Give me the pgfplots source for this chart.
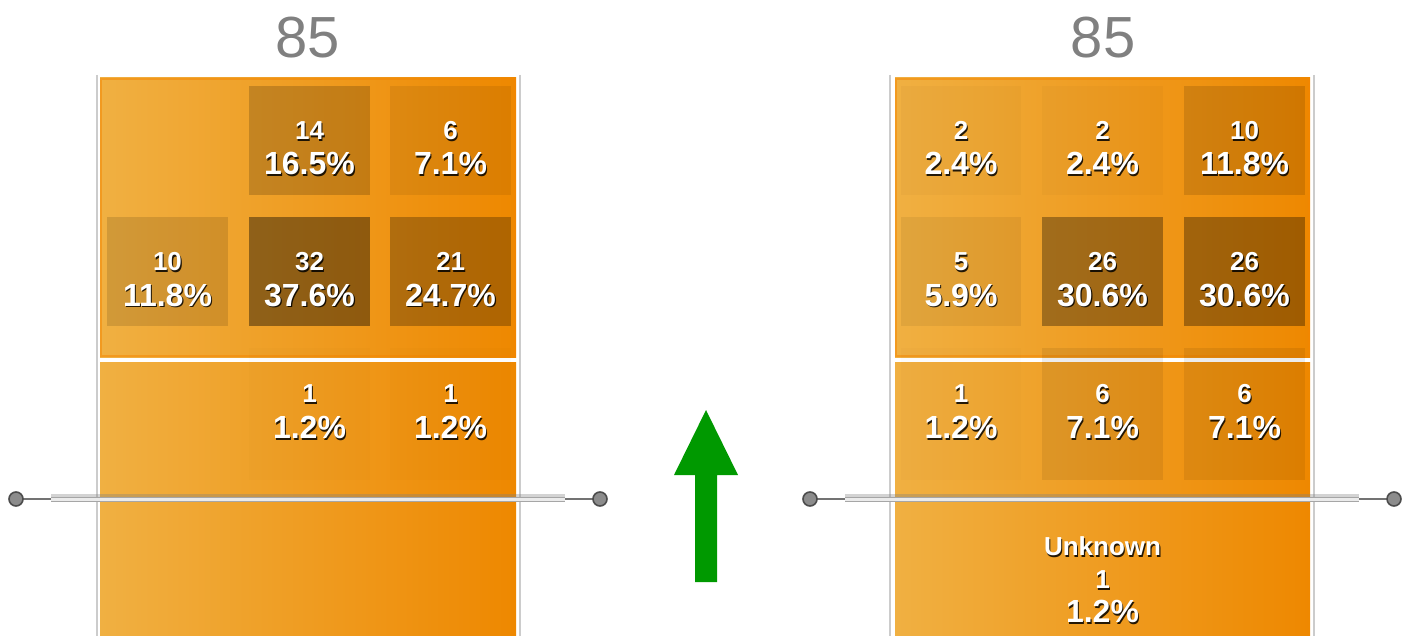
\documentclass[border=0pt]{standalone}
\usepackage{pgfplots}
\pgfplotsset{compat=1.18}
\usepackage{fontspec}
\setmainfont{Liberation Sans}
\definecolor{orL}{RGB}{240,176,66}
\definecolor{orM}{RGB}{240,156,0}
\definecolor{orR}{RGB}{238,136,0}
\definecolor{titlegray}{RGB}{128,128,128}
\definecolor{arrowgreen}{RGB}{0,153,0}
\newcommand{\cell}[5]{%
  \addplot[draw=none, fill=black, fill opacity=#5, forget plot] coordinates {(#1,#2) (#3,#2) (#3,#4) (#1,#4)} -- cycle;}
\newcommand{\lab}[4]{% x baseline size text
  \node[font=\fontsize{#3}{#3}\selectfont\bfseries, text=black, text opacity=0.85, anchor=base, xshift=1.2pt, yshift=-2pt, inner sep=0pt] at (axis cs:#1,#2) {#4};
  \node[font=\fontsize{#3}{#3}\selectfont\bfseries, text=white, anchor=base, inner sep=0pt] at (axis cs:#1,#2) {#4};}
\newcommand{\panel}[2]{% x1 x2
  \fill[left color=orL, middle color=orM, right color=orR] (axis cs:#1,78) rectangle (axis cs:#2,357);
  \fill[left color=orL, middle color=orM, right color=orR] (axis cs:#1,362) rectangle (axis cs:#2,636);
  \draw[orange!40!orR, line width=1.2pt, opacity=0.5] (axis cs:#1+1,79) rectangle (axis cs:#2-1,356);}
\newcommand{\slider}[2]{% x1 x2
  \draw[black!55, line width=2pt] (axis cs:#1,499) -- (axis cs:#2,499);
  \draw[black!50, line width=6pt, opacity=0.35] (axis cs:#1+35,497) -- (axis cs:#2-35,497);
  \draw[black!35, line width=5pt] (axis cs:#1+35,499.5) -- (axis cs:#2-35,499.5);
  \draw[black!8, line width=3pt] (axis cs:#1+35,499.5) -- (axis cs:#2-35,499.5);
  \filldraw[fill=black!45, draw=black!70, line width=1.6pt] (axis cs:#1,499) circle[radius=7pt];
  \filldraw[fill=black!45, draw=black!70, line width=1.6pt] (axis cs:#2,499) circle[radius=7pt];}
\begin{document}
\begin{tikzpicture}
\begin{axis}[name=ax,
  width=1416pt, height=636pt, scale only axis,
  xmin=0, xmax=1416, ymin=0, ymax=636, y dir=reverse,
  hide axis, clip=false]
% panels
\panel{100}{516}
\panel{895}{1310}
% vertical guide lines
\draw[black!20, line width=1.5pt] (axis cs:97,75) -- (axis cs:97,636);
\draw[black!20, line width=1.5pt] (axis cs:520,75) -- (axis cs:520,636);
\draw[black!20, line width=1.5pt] (axis cs:890,75) -- (axis cs:890,636);
\draw[black!20, line width=1.5pt] (axis cs:1314,75) -- (axis cs:1314,636);
% left cells (opacity = 0.0125 * count)
\cell{249}{86}{370}{195}{0.175}
\cell{390}{86}{511}{195}{0.075}
\cell{107}{217}{228}{326}{0.125}
\cell{249}{217}{370}{326}{0.40}
\cell{390}{217}{511}{326}{0.2625}
\cell{249}{348}{370}{480}{0.0125}
\cell{390}{348}{511}{480}{0.0125}
% right cells
\cell{901}{86}{1021}{195}{0.025}
\cell{1042}{86}{1163}{195}{0.025}
\cell{1184}{86}{1305}{195}{0.125}
\cell{901}{217}{1021}{326}{0.0625}
\cell{1042}{217}{1163}{326}{0.325}
\cell{1184}{217}{1305}{326}{0.325}
\cell{901}{348}{1021}{480}{0.0125}
\cell{1042}{348}{1163}{480}{0.075}
\cell{1184}{348}{1305}{480}{0.075}
% sliders
\slider{16}{600}
\slider{810}{1394}
% arrow
\fill[arrowgreen] (axis cs:695,582) -- (axis cs:717,582) -- (axis cs:717,475) -- (axis cs:738,475) -- (axis cs:706,410) -- (axis cs:674,475) -- (axis cs:695,475) -- cycle;
% titles
\node[font=\fontsize{58}{58}\selectfont, text=titlegray, anchor=base, inner sep=0pt] at (axis cs:308,58) {85};
\node[font=\fontsize{58}{58}\selectfont, text=titlegray, anchor=base, inner sep=0pt] at (axis cs:1103,58) {85};
% left labels
\lab{309.5}{140}{26}{14}
\lab{309.5}{175}{32}{16.5\%}
\lab{450.5}{140}{26}{6}
\lab{450.5}{175}{32}{7.1\%}
\lab{167.5}{271}{26}{10}
\lab{167.5}{306}{32}{11.8\%}
\lab{309.5}{271}{26}{32}
\lab{309.5}{306}{32}{37.6\%}
\lab{450.5}{271}{26}{21}
\lab{450.5}{306}{32}{24.7\%}
\lab{309.5}{402}{26}{1}
\lab{309.5}{438}{32}{1.2\%}
\lab{450.5}{402}{26}{1}
\lab{450.5}{438}{32}{1.2\%}
% right labels
\lab{961}{140}{26}{2}
\lab{961}{175}{32}{2.4\%}
\lab{1102.5}{140}{26}{2}
\lab{1102.5}{175}{32}{2.4\%}
\lab{1244.5}{140}{26}{10}
\lab{1244.5}{175}{32}{11.8\%}
\lab{961}{271}{26}{5}
\lab{961}{306}{32}{5.9\%}
\lab{1102.5}{271}{26}{26}
\lab{1102.5}{306}{32}{30.6\%}
\lab{1244.5}{271}{26}{26}
\lab{1244.5}{306}{32}{30.6\%}
\lab{961}{402}{26}{1}
\lab{961}{438}{32}{1.2\%}
\lab{1102.5}{402}{26}{6}
\lab{1102.5}{438}{32}{7.1\%}
\lab{1244.5}{402}{26}{6}
\lab{1244.5}{438}{32}{7.1\%}
\lab{1102.5}{555}{26}{Unknown}
\lab{1102.5}{588}{26}{1}
\lab{1102.5}{622}{32}{1.2\%}
\end{axis}
\pgfresetboundingbox
\useasboundingbox (ax.south west) rectangle (ax.north east);
\end{tikzpicture}
\end{document}
